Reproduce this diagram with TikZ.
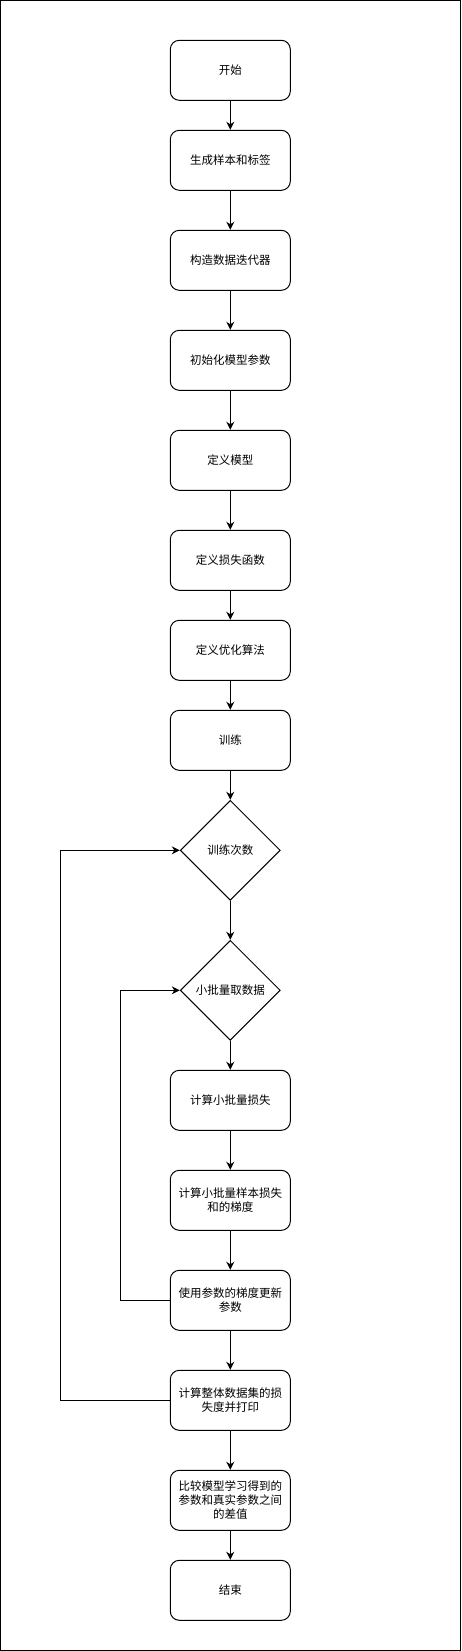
\documentclass[tikz,border=0pt]{standalone}
\usepackage{fontspec}
\newfontfamily\cjk{Noto Sans CJK SC}
\usetikzlibrary{arrows.meta,shapes.geometric}
\begin{document}
\begin{tikzpicture}[x=1pt,y=-1pt,
  proc/.style={draw,line width=1pt,rounded corners=9pt,minimum width=120pt,minimum height=60pt,inner sep=0pt,align=center,font=\cjk\fontsize{11.5}{14}\selectfont},
  decide/.style={draw,line width=1pt,shape=diamond,minimum width=100pt,minimum height=100pt,inner sep=0pt,align=center,font=\cjk\fontsize{11.5}{14}\selectfont},
  flow/.style={line width=1pt,-{Stealth[length=8pt,width=8pt,inset=2.5pt]}}]
\useasboundingbox (0,0) rectangle (461,1651);
\draw[line width=1pt] (0.5,0.5) rectangle (460.5,1650.5);
\node[proc] (n1) at (230.3,70.3) {开始};
\node[proc] (n2) at (230.3,160.3) {生成样本和标签};
\node[proc] (n3) at (230.3,260.3) {构造数据迭代器};
\node[proc] (n4) at (230.3,360.3) {初始化模型参数};
\node[proc] (n5) at (230.3,460.3) {定义模型};
\node[proc] (n6) at (230.3,560.3) {定义损失函数};
\node[proc] (n7) at (230.3,650.3) {定义优化算法};
\node[proc] (n8) at (230.3,740.3) {训练};
\node[decide] (d1) at (230.3,850.3) {训练次数};
\node[decide] (d2) at (230.3,990.3) {小批量取数据};
\node[proc] (n9) at (230.3,1100.3) {计算小批量损失};
\node[proc] (n10) at (230.3,1200.3) {计算小批量样本损失\\和的梯度};
\node[proc] (n11) at (230.3,1300.3) {使用参数的梯度更新\\参数};
\node[proc] (n12) at (230.3,1400.3) {计算整体数据集的损\\失度并打印};
\node[proc] (n13) at (230.3,1500.3) {比较模型学习得到的\\参数和真实参数之间\\的差值};
\node[proc] (n14) at (230.3,1590.3) {结束};
\coordinate (lo1) at (60.3,1400.3);
\coordinate (lo2) at (60.3,850.3);
\coordinate (li1) at (120.3,1300.3);
\coordinate (li2) at (120.3,990.3);
\draw[flow] (n1) -- (n2);
\draw[flow] (n2) -- (n3);
\draw[flow] (n3) -- (n4);
\draw[flow] (n4) -- (n5);
\draw[flow] (n5) -- (n6);
\draw[flow] (n6) -- (n7);
\draw[flow] (n7) -- (n8);
\draw[flow] (n8) -- (d1);
\draw[flow] (d1) -- (d2);
\draw[flow] (d2) -- (n9);
\draw[flow] (n9) -- (n10);
\draw[flow] (n10) -- (n11);
\draw[flow] (n11) -- (n12);
\draw[flow] (n12) -- (n13);
\draw[flow] (n13) -- (n14);
\draw[flow] (n12.west) -- (lo1) -- (lo2) -- (d1.west);
\draw[flow] (n11.west) -- (li1) -- (li2) -- (d2.west);
\end{tikzpicture}
\end{document}
